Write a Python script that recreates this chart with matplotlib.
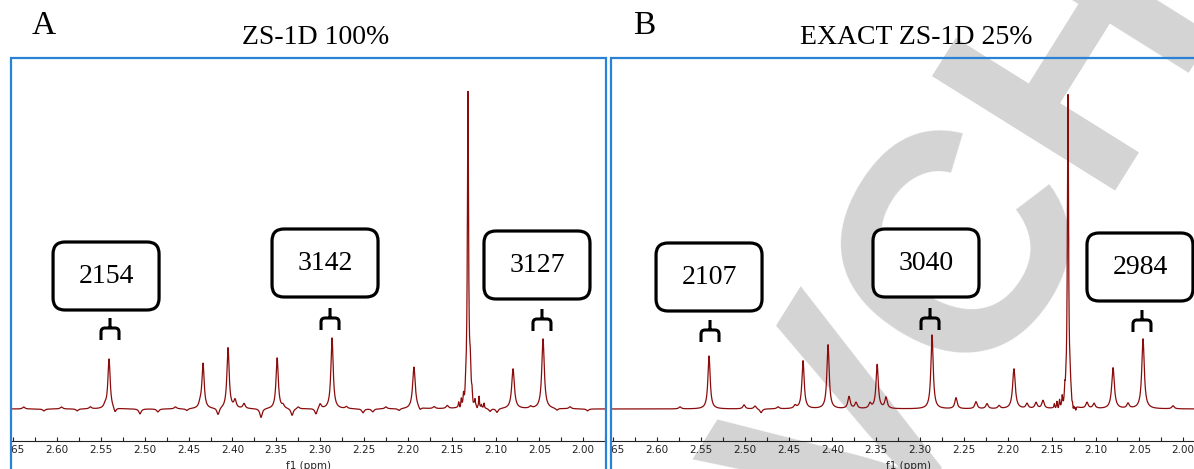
import numpy as np
import matplotlib
matplotlib.use('Agg')
import matplotlib.pyplot as plt
from matplotlib.patches import Rectangle, FancyBboxPatch, PathPatch
from matplotlib.path import Path
from matplotlib.transforms import Bbox, TransformedBbox, IdentityTransform
from matplotlib.ticker import MultipleLocator, FormatStrFormatter

# main peaks (ppm, height above baseline)
peak_ppm = [2.5407, 2.4335, 2.4050, 2.3490, 2.2864, 2.1930, 2.1314, 2.1288, 2.0800, 2.0458]
height_A = [50, 45, 61, 51, 71, 42, 312, 34, 40, 70]
height_B = [53, 48, 64, 44, 74, 40, 311, 23, 41, 70]
width_ppm = [0.0031, 0.0031, 0.0031, 0.0031, 0.0031, 0.0036, 0.0016, 0.0020, 0.0036, 0.0034]

# small baseline features (ppm, height) - bumps and dips
small_ppm_A = [2.6380, 2.6150, 2.5950, 2.5770, 2.5620, 2.5453, 2.5339, 2.5054, 2.4850, 2.4650,
               2.4520, 2.4369, 2.4164, 2.3970, 2.3868, 2.3674, 2.3423, 2.3320, 2.3250, 2.3047,
               2.3001, 2.2700, 2.2511, 2.2400, 2.2250, 2.2100, 2.1861, 2.1700, 2.1550, 2.1063,
               2.0983, 2.0600, 2.0300, 2.0150, 1.9950]
small_h_A = [2, -2, 2, -2, 2, 3, -5, -5, -3, 2,
             -2, 4, -7, 8, 5, -9, 3, -7, 2, -6,
             5, 2, -4, -3, 2, -2, -3, 2, 3, -3,
             -4, 2, -2, 2, -2]
noise_ppm_A = [2.1420, 2.1405, 2.1390, 2.1378, 2.1365, 2.1352, 2.1340, 2.1330,
               2.1268, 2.1255, 2.1234, 2.1210, 2.1188, 2.1160, 2.1131]
noise_h_A = [5, -2, 7, -1, 9, -2, 12, 6, 8, -3, 6, -2, 11, 3, 5]

small_ppm_B = [2.5738, 2.5008, 2.4883, 2.4814, 2.4620, 2.4426, 2.3811, 2.3731, 2.3571, 2.3389,
               2.2591, 2.2363, 2.2237, 2.2100, 2.1781, 2.1678, 2.1599, 2.1097, 2.1017, 2.0629,
               2.0116]
small_h_B = [2, 4, 3, -4, 2, 3, 12, 6, 5, 11, 11, 7, 5, 3, 5, 6, 8, 6, 5, 5, 3]
noise_ppm_B = [2.1470, 2.1455, 2.1440, 2.1425, 2.1410, 2.1395, 2.1380, 2.1365, 2.1350, 2.1338,
               2.1285, 2.1270, 2.1255, 2.1240, 2.1225]
noise_h_B = [4, -1, 6, -2, 7, -1, 9, -2, 12, 8, -7, -5, -6, -3, -4]

# integral labels
labels_A = ['2154', '3142', '3127']
labels_B = ['2107', '3040', '2984']
label_ppm_A = [2.5441, 2.2944, 2.0527]
label_ppm_B = [2.5407, 2.2933, 2.0493]
label_y_A = [133, 146, 144]
label_y_B = [132, 146, 142]
bracket_ppm_A = [2.5396, 2.2887, 2.0470]
bracket_ppm_B = [2.5396, 2.2887, 2.0470]
bracket_y_A = [91, 101, 100]
bracket_y_B = [89, 101, 99]

W, H = 1194, 469
blue = '#2a82d6'
red = '#8b0c0c'
serif = 'Liberation Serif'

ppm = np.linspace(2.66, 1.96, 7001)


def spectrum(heights, sp, sh, npm, nh):
    y = np.zeros_like(ppm)
    for p, h, w in zip(peak_ppm, heights, width_ppm):
        y += h / (1 + ((ppm - p) / (w / 2)) ** 2)
    for p, h in zip(sp, sh):
        y += h / (1 + ((ppm - p) / 0.0016) ** 2)
    for p, h in zip(npm, nh):
        y += h / (1 + ((ppm - p) / 0.0005) ** 2)
    return y


fig = plt.figure(figsize=(W / 100, H / 100), dpi=100)

# publisher watermark, light grey, behind everything
fig.text(980 / W, 1 - 250 / H, 'VCH', family='Liberation Sans', weight='bold',
         fontsize=225, color='#d4d4d4', rotation=58, rotation_mode='anchor',
         ha='center', va='center', zorder=-5)

panels = [
    (11, 'A', 'ZS-1D 100%', height_A, small_ppm_A, small_h_A, noise_ppm_A, noise_h_A,
     labels_A, label_ppm_A, label_y_A, bracket_ppm_A, bracket_y_A),
    (611, 'B', 'EXACT ZS-1D 25%', height_B, small_ppm_B, small_h_B, noise_ppm_B, noise_h_B,
     labels_B, label_ppm_B, label_y_B, bracket_ppm_B, bracket_y_B),
]

for (x0, letter, title, hts, sp, sh, npm, nh, labs, lppm, ly, bppm, by) in panels:
    ax = fig.add_axes([x0 / W, 1 - 441 / H, 595 / W, (441 - 58) / H])
    ax.patch.set_alpha(0)
    ax.plot(ppm, spectrum(hts, sp, sh, npm, nh), color=red, lw=0.9)
    ax.set_xlim(2.6525, 1.974)
    ax.set_ylim(-32, 351)
    for s in ['top', 'left', 'right']:
        ax.spines[s].set_visible(False)
    ax.spines['bottom'].set_color('#222222')
    ax.spines['bottom'].set_linewidth(0.8)
    ax.set_yticks([])
    ax.set_xticks(np.round(np.arange(2.65, 1.99, -0.05), 2))
    ax.xaxis.set_major_formatter(FormatStrFormatter('%.2f'))
    ax.xaxis.set_minor_locator(MultipleLocator(0.025))
    ax.tick_params(axis='x', which='both', direction='in', length=3, width=0.8,
                   labelsize=7.5, pad=3, colors='#222222')
    ax.set_xlabel('f1 (ppm)', fontsize=7.5, labelpad=4.5, color='#222222')

    # frame around the panel, tick labels clipped to it
    fig.add_artist(Rectangle(((x0 - 0.5) / W, -0.05), 596 / W, 1 - 58 / H + 0.05,
                             transform=fig.transFigure, fill=False, ec=blue, lw=1.6))
    clip = TransformedBbox(Bbox([[(x0 + 1) / W, 0], [(x0 + 595) / W, 1]]), fig.transFigure)
    for t in ax.xaxis.get_major_ticks():
        t.label1.set_clip_box(clip)
        t.label1.set_clip_on(True)

    fig.text((x0 + 33) / W, 1 - 26 / H, letter, family=serif, fontsize=24,
             ha='center', va='center')
    fig.text((x0 + 305) / W, 1 - 38 / H, title, family=serif, fontsize=20,
             ha='center', va='center')

    # boxed integral values
    for s, p, yv in zip(labs, lppm, ly):
        cx, cy = ax.transData.transform((p, yv))
        box = FancyBboxPatch((cx - 53, cy - 34), 106, 68,
                             boxstyle='round,pad=0,rounding_size=12',
                             transform=IdentityTransform(), fc='white', ec='black', lw=2.3)
        fig.add_artist(box)
        fig.text(cx, cy, s, transform=IdentityTransform(), family=serif, fontsize=20,
                 ha='center', va='center')

    # brackets above the integrated peaks
    for p, yv in zip(bppm, by):
        cx, cy = ax.transData.transform((p, yv))
        verts = [(cx, cy), (cx, cy - 10),
                 (cx - 9, cy - 22), (cx - 9, cy - 14), (cx - 9, cy - 10), (cx - 5, cy - 10),
                 (cx + 5, cy - 10), (cx + 9, cy - 10), (cx + 9, cy - 14), (cx + 9, cy - 22)]
        codes = [Path.MOVETO, Path.LINETO,
                 Path.MOVETO, Path.LINETO, Path.CURVE3, Path.CURVE3,
                 Path.LINETO, Path.CURVE3, Path.CURVE3, Path.LINETO]
        fig.add_artist(PathPatch(Path(verts, codes), transform=IdentityTransform(),
                                 fill=False, ec='black', lw=2.2, capstyle='butt'))

fig.savefig('out.png', dpi=100)
